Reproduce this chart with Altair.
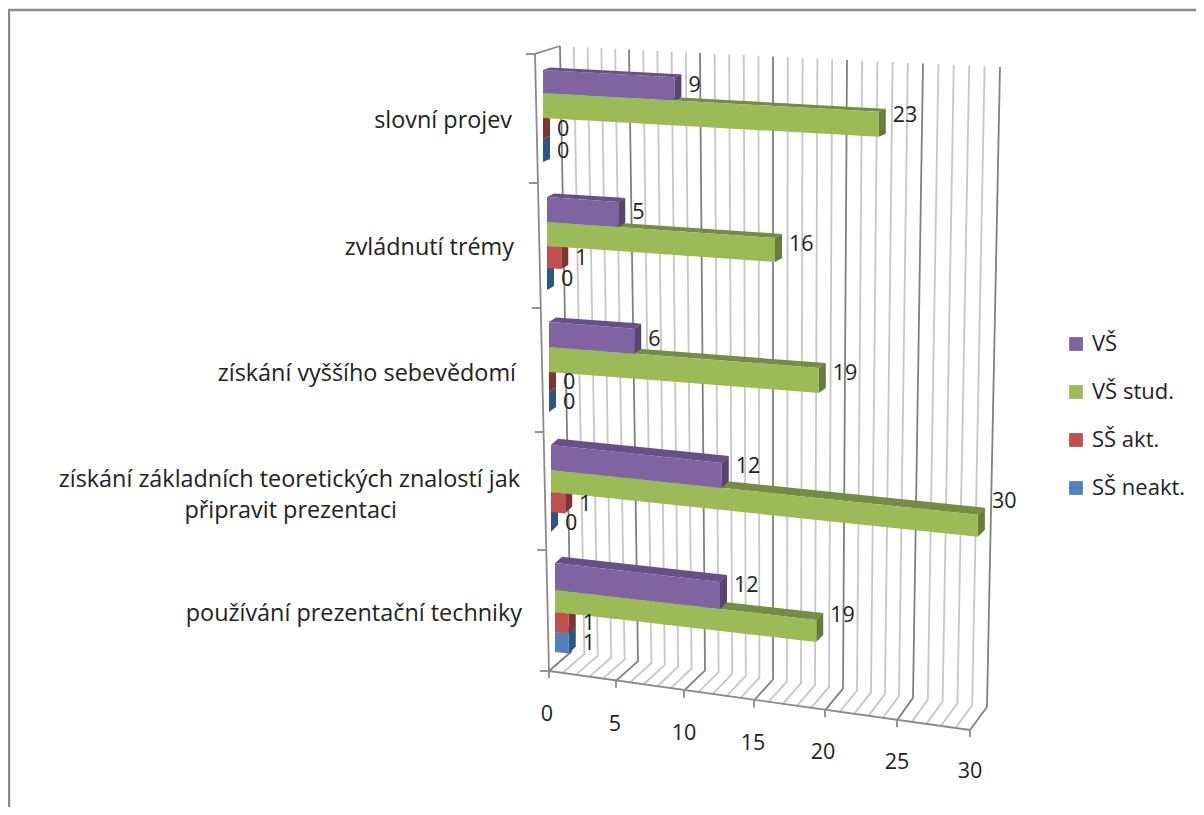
import altair as alt
import numpy as np
import pandas as pd

# ---- chart values ----
categories = ["slovní projev", "zvládnutí trémy", "získání vyššího sebevědomí",
              "získání základních teoretických znalostí jak", "používání prezentační techniky"]
second_line = ["", "", "", "připravit prezentaci", ""]
series = ["VŠ", "VŠ stud.", "SŠ akt.", "SŠ neakt."]
vs = [9, 5, 6, 12, 12]
vs_stud = [23, 16, 19, 30, 19]
ss_akt = [0, 1, 0, 1, 1]
ss_neakt = [0, 0, 0, 0, 1]
values = [vs, vs_stud, ss_akt, ss_neakt]
front = ["#8064A2", "#9BBB59", "#C0504D", "#4F81BD"]
top = ["#66508A", "#748C43", "#9A403D", "#3C6491"]
side = ["#58446F", "#667C3A", "#7F3533", "#2F5580"]
ticks = [0, 5, 10, 15, 20, 25, 30]
FONT = "Open Sans"

# ---- oblique projection of the 3-D look, one set per category ----
left = [543, 547, 549, 551, 555]
unit = [14.6, 14.25, 14.2, 14.23, 13.75]
slope = [0.056, 0.07, 0.078, 0.105, 0.115]
edges = [[70, 93, 118, 139, 162], [197, 222, 246, 268, 290], [322, 347, 372, 392, 412],
         [445, 470, 492, 512, 532], [563, 590, 612, 632, 652]]
rise = [3, 4, 5, 7, 7]
label_lift = [0.4, 0.4, 0.4, 0.85, 0.85]
label_base = [1, 1, 1, 2, 1]
run = 7
wall_top_x = [560, 629, 700, 773, 847, 923, 1000]
wall_bottom_x = [571, 638, 705, 773, 843, 913, 987]
floor_front_x = [549, 616, 684, 754, 825, 897, 970]
tick_label_x = [547, 615, 684, 753, 823, 897, 970]


def X(p):
    return (p - 552) / 14


def Y(p):
    return p - 40


def lerp(a, b, t):
    return a + (b - a) * t


face_rows, labels = [], []
for s, name in enumerate(series):
    for r in range(5):
        v = values[s][r]
        x0, x1 = left[r], left[r] + v * unit[r]
        t0, b0 = edges[r][s], edges[r][s + 1]
        m, dy = slope[r], rise[r]
        fy = lambda base, px: base + (px - x0) * m
        bid = f"{s}-{r}"
        for px in (x0, x1):
            if v > 0:
                face_rows.append(dict(face="front", series=name, id=bid, x=X(px), y=Y(fy(t0, px)), y2=Y(fy(b0, px))))
        if v > 0:
            for px, a, b in [(x0, fy(t0, x0), fy(t0, x0)),
                             (x0 + run, fy(t0, x0) - dy + (run * m), fy(t0, x0 + run)),
                             (x1, fy(t0, x1 - run) - dy, fy(t0, x1)),
                             (x1 + run, fy(t0, x1) - dy, fy(t0, x1) - dy)]:
                face_rows.append(dict(face="top", series=name, id=bid, x=X(px), y=Y(a), y2=Y(b)))
        face_rows.append(dict(face="side", series=name, id=bid, x=X(x1), y=Y(fy(t0, x1)), y2=Y(fy(b0, x1))))
        face_rows.append(dict(face="side", series=name, id=bid, x=X(x1 + run), y=Y(fy(t0, x1) - dy), y2=Y(fy(b0, x1) - dy)))
        labels.append(dict(x=X(x1 + run + 7),
                           y=Y((fy(t0, x1) + fy(b0, x1)) / 2 + label_base[r] - v * label_lift[r]),
                           text=str(v)))
faces = pd.DataFrame(face_rows)
value_labels = pd.DataFrame(labels)

# ---- walls, floor and axes ----
grid_rows, axis_rows = [], []
for u in range(31):
    t = u / 30
    kind = "major" if u % 5 == 0 else "minor"
    pts = [(float(np.interp(u, ticks, wall_top_x)), lerp(46, 67, t)),
           (float(np.interp(u, ticks, wall_bottom_x)), lerp(652, 707, t)),
           (float(np.interp(u, ticks, floor_front_x)), lerp(671, 730, t))]
    for k, (px, py) in enumerate(pts):
        grid_rows.append(dict(kind=kind, id=u, seq=k, x=X(px), y=Y(py)))
    if u % 5 == 0:
        fx, fy_ = pts[2]
        axis_rows += [dict(id=f"t{u}", seq=0, x=X(fx), y=Y(fy_)), dict(id=f"t{u}", seq=1, x=X(fx), y=Y(fy_ + 7))]
axis_rows += [dict(id="front", seq=0, x=X(549), y=Y(671)), dict(id="front", seq=1, x=X(970), y=Y(730)),
              dict(id="wall", seq=0, x=X(560), y=Y(46)), dict(id="wall", seq=1, x=X(535), y=Y(54)),
              dict(id="wall", seq=2, x=X(549), y=Y(671))]
for i, py in enumerate([54, 183, 308, 432, 550, 671]):
    wx = lerp(535, 549, (py - 54) / 617)
    axis_rows += [dict(id=f"c{i}", seq=0, x=X(wx - 9), y=Y(py)), dict(id=f"c{i}", seq=1, x=X(wx), y=Y(py))]
grid = pd.DataFrame(grid_rows)
axes = pd.DataFrame(axis_rows)

tick_labels = pd.DataFrame([dict(text=str(u), x=X(tick_label_x[i]), y=Y(lerp(715, 772, u / 30))) for i, u in enumerate(ticks)])

cat_rows = []
cat_right = [512, 514, 516, 520, 522]
cat_y = [121, 248, 374, 480, 614]
for r, c in enumerate(categories):
    cat_rows.append(dict(text=c, x=X(cat_right[r]), y=Y(cat_y[r])))
    if second_line[r]:
        cat_rows.append(dict(text=second_line[r], x=X(397), y=Y(cat_y[r] + 31)))
cat_labels = pd.DataFrame(cat_rows)

frame = pd.DataFrame([dict(seq=0, x=X(1204), y=Y(10)), dict(seq=1, x=X(9), y=Y(10)), dict(seq=2, x=X(9), y=Y(815))])

# ---- encodings ----
xs = alt.X("x:Q", axis=None, scale=alt.Scale(domain=[0, 30], nice=False, zero=False))
ys = alt.Y("y:Q", axis=None, stack=None, scale=alt.Scale(domain=[0, 640], nice=False, zero=False, reverse=True))


def lines(df, color, width):
    return alt.Chart(df).mark_line(color=color, strokeWidth=width, clip=False).encode(
        x=xs, y=ys, detail="id:N", order="seq:Q")


layers = [
    alt.Chart(frame).mark_line(color="#8a8a8a", strokeWidth=2.4).encode(x=xs, y=ys, order="seq:Q"),
    lines(grid[grid.kind == "minor"], "#c6c6c6", 1.8),
    lines(grid[grid.kind == "major"], "#808080", 1.8),
    lines(axes, "#8a8a8a", 1.8),
]

color = alt.Color("series:N", scale=alt.Scale(domain=series, range=front),
                  legend=alt.Legend(orient="none", legendX=513, legendY=293, title=None,
                                    symbolType="square", symbolSize=190, symbolStrokeWidth=0,
                                    labelFont=FONT, labelFontSize=22, labelColor="#222222",
                                    rowPadding=26, labelOffset=5))

for i in [3, 2, 1, 0]:
    sub = faces[faces.series == series[i]]
    for f, colr in [("top", top[i]), ("side", side[i])]:
        d = sub[sub.face == f]
        layers.append(alt.Chart(d).mark_area(color=colr, interpolate="linear").encode(
            x=xs, y=ys, y2="y2:Q", detail="id:N"))
    d = sub[sub.face == "front"]
    layers.append(alt.Chart(d).mark_area(interpolate="linear").encode(
        x=xs, y=ys, y2="y2:Q", detail="id:N", color=color))

text_style = dict(font=FONT, color="#222222", baseline="middle")
layers += [
    alt.Chart(value_labels).mark_text(align="left", fontSize=21.5, **text_style).encode(x=xs, y=ys, text="text:N"),
    alt.Chart(tick_labels).mark_text(align="center", fontSize=21.5, **text_style).encode(x=xs, y=ys, text="text:N"),
    alt.Chart(cat_labels).mark_text(align="right", fontSize=23.4, **text_style).encode(x=xs, y=ys, text="text:N"),
]

chart = alt.layer(*layers).properties(
    width=420, height=640, background="white",
    padding={"left": 544, "top": 32, "right": 224, "bottom": 127},
    autosize=alt.AutoSizeParams(type="none"),
).configure_view(stroke=None)

chart.save("out.html", embed_options={"renderer": "svg", "actions": False})
